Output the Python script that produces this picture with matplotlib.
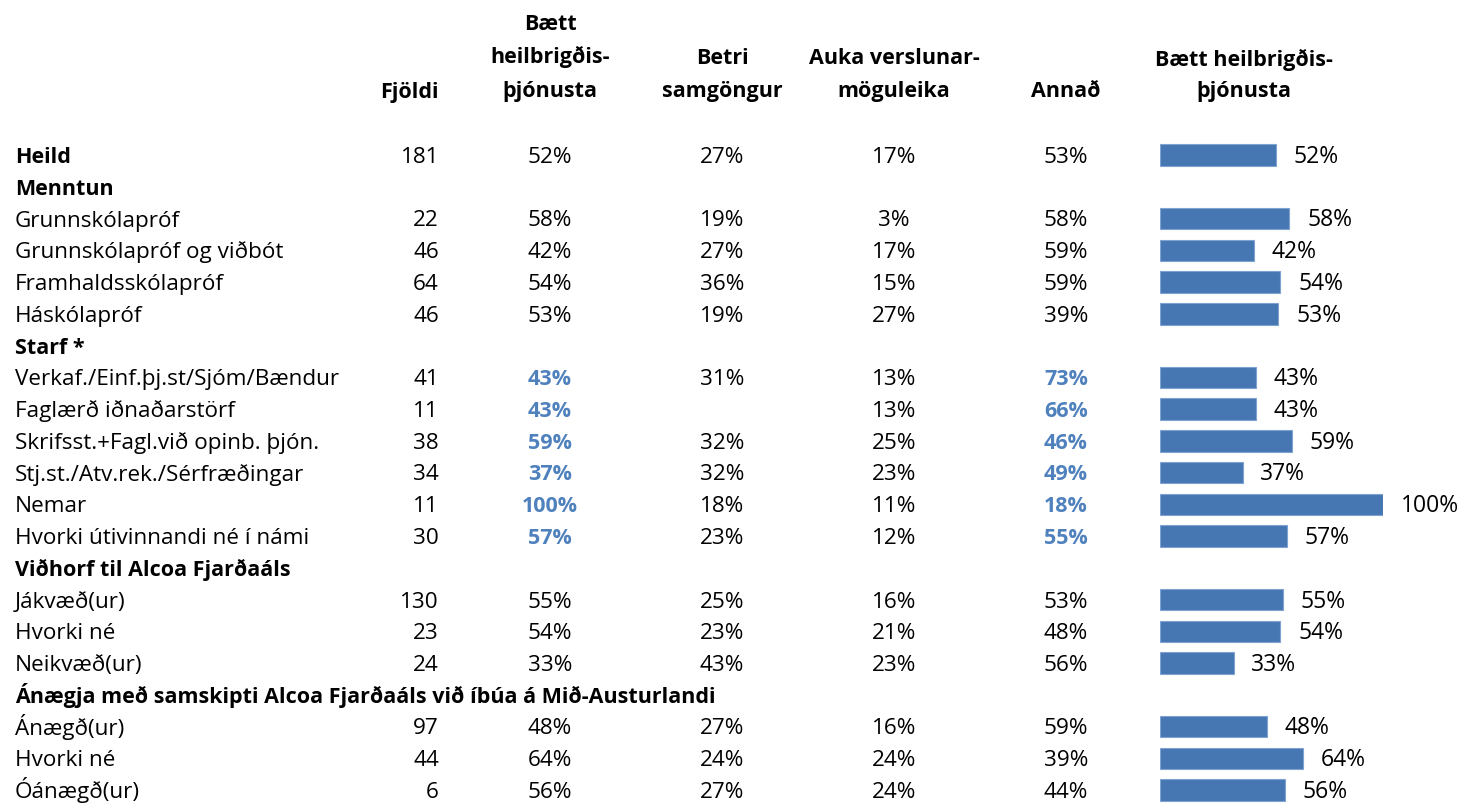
import matplotlib
matplotlib.use('Agg')
import matplotlib.pyplot as plt

plt.rcParams['font.family'] = ['Open Sans', 'DejaVu Sans']

# ─── DATA ────────────────────────────────────────────────────────────────────
rows = ["Heild", "Menntun", "Grunnskólapróf", "Grunnskólapróf og viðbót",
        "Framhaldsskólapróf", "Háskólapróf", "Starf *",
        "Verkaf./Einf.þj.st/Sjóm/Bændur", "Faglærð iðnaðarstörf",
        "Skrifsst.+Fagl.við opinb. þjón.", "Stj.st./Atv.rek./Sérfræðingar",
        "Nemar", "Hvorki útivinnandi né í námi", "Viðhorf til Alcoa Fjarðaáls",
        "Jákvæð(ur)", "Hvorki né", "Neikvæð(ur)",
        "Ánægja með samskipti Alcoa Fjarðaáls við íbúa á Mið-Austurlandi",
        "Ánægð(ur)", "Hvorki né", "Óánægð(ur)"]
bold_rows = [0, 1, 6, 13, 17]
fjoldi = [181, None, 22, 46, 64, 46, None, 41, 11, 38, 34, 11, 30, None, 130, 23, 24, None, 97, 44, 6]
baett  = [52, None, 58, 42, 54, 53, None, 43, 43, 59, 37, 100, 57, None, 55, 54, 33, None, 48, 64, 56]
betri  = [27, None, 19, 27, 36, 19, None, 31, None, 32, 32, 18, 23, None, 25, 23, 43, None, 27, 24, 27]
auka   = [17, None, 3, 17, 15, 27, None, 13, 13, 25, 23, 11, 12, None, 16, 21, 23, None, 16, 24, 24]
annad  = [53, None, 58, 59, 59, 39, None, 73, 66, 46, 49, 18, 55, None, 53, 48, 56, None, 59, 39, 44]
highlight_rows = [7, 8, 9, 10, 11, 12]   # bold blue in Bætt / Annað columns

col_heads = [["Bætt", "heilbrigðis-", "þjónusta"], ["Betri", "samgöngur"],
             ["Auka verslunar-", "möguleika"], ["Annað"]]
bar_head = ["Bætt heilbrigðis-", "þjónusta"]

# ─── STYLE ───────────────────────────────────────────────────────────────────
W, H = 1465, 806
BLUE = '#4F81BD'
BAR = '#4677B2'
FS_B = 15.5      # bold headers
FS_R = 16.2      # regular cells
ROW0, DY = 155, 31.75
col_x = [550, 722, 894, 1066]
BAR_X0, BAR_W100 = 1160, 223

fig = plt.figure(figsize=(W / 100, H / 100), dpi=100)
ax = fig.add_axes([0, 0, 1, 1])
ax.set_xlim(0, W)
ax.set_ylim(H, 0)
ax.axis('off')

bax = fig.add_axes([BAR_X0 / W, 0, BAR_W100 / W, 1])
bax.set_xlim(0, 100)
bax.set_ylim(H, 0)
bax.axis('off')

ys = [ROW0 + DY * i for i in range(len(rows))]

# headers
ax.text(439, 98, "Fjöldi", fontsize=FS_B, fontweight='bold', ha='right', va='baseline')
for cx, lines in zip(col_x, col_heads):
    for k, line in enumerate(reversed(lines)):
        ax.text(cx, 97 - 33.5 * k, line, fontsize=FS_B, fontweight='bold',
                ha='center', va='baseline')
for k, line in enumerate(reversed(bar_head)):
    ax.text(1244, 97 - 31 * k, line, fontsize=FS_B, fontweight='bold',
            ha='center', va='baseline')

# table body
cols = [baett, betri, auka, annad]
for i, y in enumerate(ys):
    base = y + 8
    if i in bold_rows:
        ax.text(15, base, rows[i], fontsize=FS_B, va='baseline', fontweight='bold')
    else:
        ax.text(15, base, rows[i], fontsize=FS_R, va='baseline')
    if fjoldi[i] is not None:
        ax.text(439, base, str(fjoldi[i]), fontsize=FS_R, ha='right', va='baseline')
    for j, (cx, col) in enumerate(zip(col_x, cols)):
        v = col[i]
        if v is None:
            continue
        hl = i in highlight_rows and j in (0, 3)
        ax.text(cx, base, f"{v}%", fontsize=FS_B if hl else FS_R,
                ha='center', va='baseline',
                color=BLUE if hl else 'black',
                fontweight='bold' if hl else 'normal')

# bars
bar_y = [y for y, v in zip(ys, baett) if v is not None]
bar_v = [v for v in baett if v is not None]
bax.barh(bar_y, bar_v, height=21.5, left=0, color=BAR,
         edgecolor='#7FA3D0', linewidth=0.8)
for y, v in zip(bar_y, bar_v):
    bax.text(v + 8, y + 8, f"{v}%", fontsize=16.5, ha='left', va='baseline',
             clip_on=False)

fig.savefig('out.png', dpi=100, facecolor='white')
